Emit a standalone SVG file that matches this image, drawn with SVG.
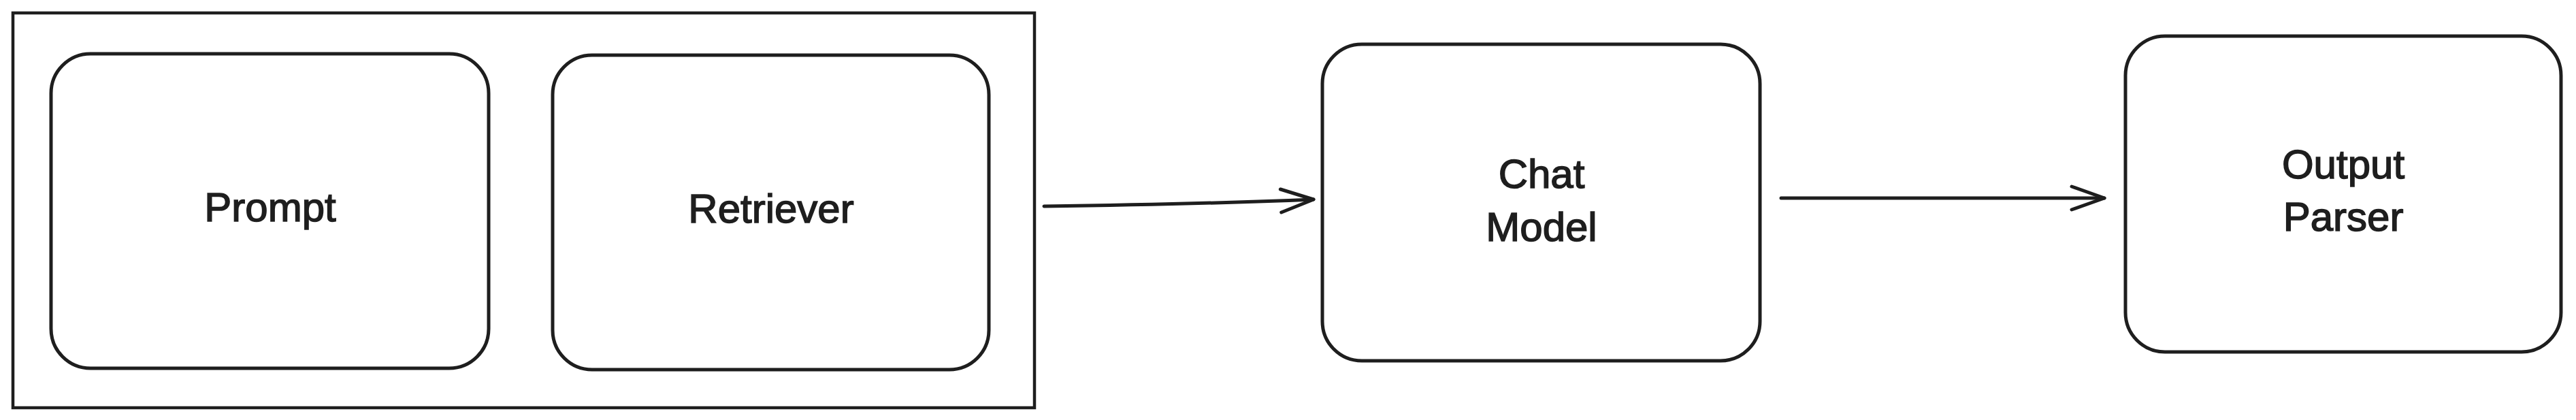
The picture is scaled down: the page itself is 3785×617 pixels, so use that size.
<svg xmlns="http://www.w3.org/2000/svg" width="3785" height="617" viewBox="0 0 3785 617">
  <style>
    .box { fill: #ffffff; stroke: #1e1e1e; stroke-width: 5; stroke-linejoin: round; }
    .frame { fill: none; stroke: #1e1e1e; stroke-width: 4.5; }
    .lbl { font-family: "Liberation Sans", Arial, sans-serif; font-size: 60px; fill: #1e1e1e; stroke: #1e1e1e; stroke-width: 1.5; text-anchor: middle; }
    .conn { fill: none; stroke: #1e1e1e; stroke-width: 5; stroke-linecap: round; }
  </style>
  <defs>
    <marker id="arrow" markerUnits="userSpaceOnUse" markerWidth="60" markerHeight="50" viewBox="-55 -25 60 50" refX="0" refY="0" orient="auto">
      <path d="M -48 -17 L 0 0 L -48 17" fill="none" stroke="#1e1e1e" stroke-width="5" stroke-linecap="round" stroke-linejoin="round"/>
    </marker>
  </defs>
  <rect width="3785" height="617" fill="#ffffff"/>

  <g id="group-frame">
    <rect class="frame" x="19" y="19" width="1501" height="580"/>
  </g>

  <g id="node-prompt">
    <rect class="box" x="75" y="79" width="643" height="462" rx="58" ry="58"/>
    <text class="lbl" x="397" y="325">Prompt</text>
  </g>

  <g id="node-retriever">
    <rect class="box" x="812" y="81" width="641" height="462" rx="58" ry="58"/>
    <text class="lbl" x="1133" y="327">Retriever</text>
  </g>

  <g id="node-chat-model">
    <rect class="box" x="1943" y="65" width="643" height="465" rx="58" ry="58"/>
    <text class="lbl" x="2265" y="276">Chat</text>
    <text class="lbl" x="2265" y="354">Model</text>
  </g>

  <g id="node-output-parser">
    <rect class="box" x="3123" y="53" width="640" height="464" rx="58" ry="58"/>
    <text class="lbl" x="3443" y="262">Output</text>
    <text class="lbl" x="3443" y="339">Parser</text>
  </g>

  <g id="connectors">
    <path class="conn" d="M 1534 303 Q 1760 300 1930 293" marker-end="url(#arrow)"/>
    <path class="conn" d="M 2617 291 L 3092 291" marker-end="url(#arrow)"/>
  </g>
</svg>
